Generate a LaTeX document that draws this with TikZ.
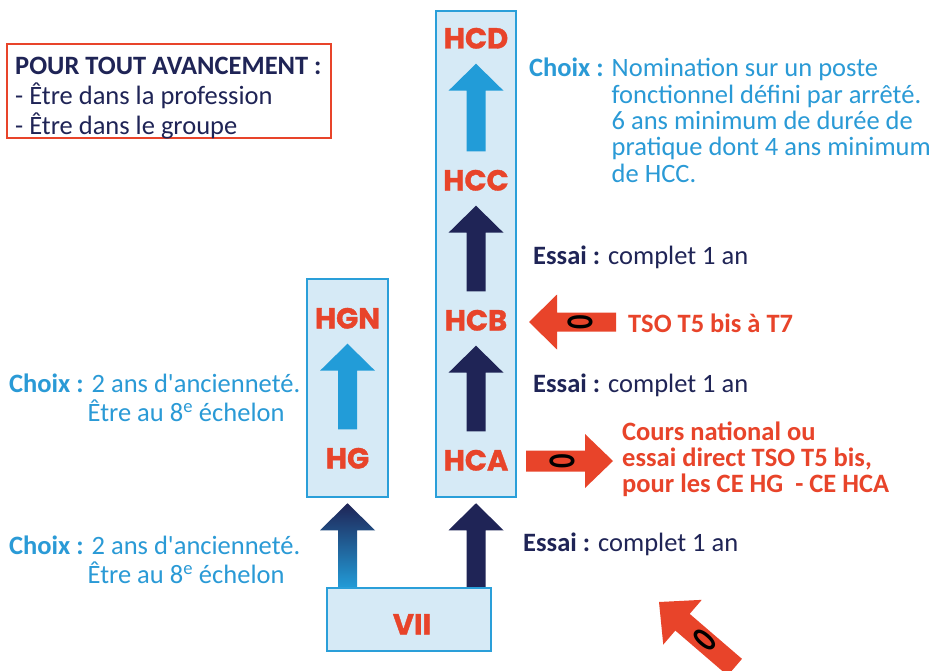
\documentclass[tikz,border=0pt]{standalone}
\usepackage{fontspec}
\setmainfont{Carlito}
\newfontfamily\gradefont{Poppins}[BoldFeatures={FakeBold=1.2}]
\usetikzlibrary{calc}
\definecolor{cred}{HTML}{E8442A}
\definecolor{cnavy}{HTML}{1F2456}
\definecolor{cblue}{HTML}{229CD8}
\definecolor{ctext}{HTML}{2A9AD6}
\definecolor{cfill}{HTML}{D6EAF6}
\definecolor{cborder}{HTML}{2A9FD9}
\tikzset{
  grade/.style={font=\gradefont\bfseries\fontsize{29}{29}\selectfont, text=cred, inner sep=0pt, text height=21pt, text depth=0pt, anchor=center},
  column/.style={draw=cborder, fill=cfill, line width=2.5pt, inner sep=0pt},
  txt/.style={font=\fontsize{26.5}{26.3}\selectfont, inner sep=0pt, anchor=base west},
  boldtxt/.style={txt, font=\fontsize{26.5}{26.3}\selectfont\bfseries},
  zero/.style={font=\fontsize{38}{38}\selectfont\bfseries, inner sep=0pt, text=black},
}
% vertical block arrow: #1 style, #2 tail, #3 tip
\newcommand\blockup[3]{\path[#1] let \p1=(#2), \p2=(#3) in
  (\x1-9.5pt,\y1) -- (\x1-9.5pt,\y2-27pt) -- (\x1-27.5pt,\y2-27pt) -- (\x1,\y2)
  -- (\x1+27.5pt,\y2-27pt) -- (\x1+9.5pt,\y2-27pt) -- (\x1+9.5pt,\y1) -- cycle;}
% general block arrow: #1 style, #2 tip, #3 angle, #4 length, #5 shaft width, #6 head width, #7 head length
\newcommand\blockarrow[7]{\begin{scope}[shift={(#2)}, rotate=#3]
  \path[#1] (0,0) -- (-#7,#6/2) -- (-#7,#5/2) -- (-#4,#5/2) -- (-#4,-#5/2)
    -- (-#7,-#5/2) -- (-#7,-#6/2) -- cycle;
  \end{scope}}
\begin{document}
\begin{tikzpicture}[x=1pt,y=-1pt]
\useasboundingbox (0,0) rectangle (933,671);
\fill[white] (0,0) rectangle (933,671);

% columns
\node[column, minimum width=80pt, minimum height=486pt] (colH) at (476,254) {};
\node[column, minimum width=81pt, minimum height=218pt] (colG) at (347.5,388) {};

% grade labels
\node[grade] (HCD) at (476,38) {HCD};
\node[grade] (HCC) at (476,180) {HCC};
\node[grade] (HCB) at (476,320) {HCB};
\node[grade] (HCA) at (476,460) {HCA};
\node[grade] (HGN) at (347.5,318) {HGN};
\node[grade] (HG) at (347.5,458) {HG};

% arrows inside columns
\blockup{fill=cblue}{[yshift=18pt]HCC.north}{[yshift=-15pt]HCD.south}
\blockup{fill=cnavy}{[yshift=18pt]HCB.north}{[yshift=-15pt]HCC.south}
\blockup{fill=cnavy}{[yshift=18pt]HCA.north}{[yshift=-15pt]HCB.south}
\blockup{fill=cblue}{[yshift=18pt]HG.north}{[yshift=-15pt]HGN.south}

% VII box
\coordinate (viiTop) at (409,588);
\blockup{top color=cnavy, bottom color=cblue}{viiTop -| HG}{[yshift=-5pt]colG.south}
\blockup{fill=cnavy}{viiTop -| HCA}{[yshift=-5pt]colH.south}
\node[column, line width=2pt, minimum width=164pt, minimum height=63pt] (vii) at (409,619.5) {};
\node[grade] (viilabel) at (412,624) {VII};

% requirement box
\node[draw=cred, line width=2pt, minimum width=324pt, minimum height=94pt] (reqbox) at (169,91) {};
\node[txt, text=cnavy] (req) at (15,75) {\begin{tabular}[t]{@{}l@{}}\textbf{POUR TOUT AVANCEMENT :}\\- Être dans la profession\\- Être dans le groupe\end{tabular}};

% right texts
\node[txt, text=ctext] (choixH) at (529,77) {\begin{tabular}[t]{@{}l@{ }l@{}}\textbf{Choix :} & Nomination sur un poste\\ & fonctionnel défini par arrêté.\\ & 6 ans minimum de durée de\\ & pratique dont 4 ans minimum\\ & de HCC.\end{tabular}};
\node[txt, text=cnavy] (essai1) at (533,264) {\textbf{Essai :} complet 1 an};
\node[txt, text=cnavy] (essai2) at (533,392) {\textbf{Essai :} complet 1 an};
\node[txt, text=cnavy] (essai3) at (523,551) {\textbf{Essai :} complet 1 an};
\node[boldtxt, text=cred] (tso) at (628,332) {TSO T5 bis à T7};
\node[boldtxt, text=cred] (cours) at (622,440) {\begin{tabular}[t]{@{}l@{}}Cours national ou\\essai direct TSO T5 bis,\\pour les CE HG\ \ - CE HCA\end{tabular}};

% left texts
\node[txt, text=ctext] (choixG1) at (9,392) {\begin{tabular}[t]{@{}l@{ }l@{}}\textbf{Choix :} & 2 ans d\textquotesingle ancienneté.\\ & \hspace{-4pt}Être au 8\textsuperscript{e} échelon\end{tabular}};
\node[txt, text=ctext] (choixG2) at (9,554) {\begin{tabular}[t]{@{}l@{ }l@{}}\textbf{Choix :} & 2 ans d\textquotesingle ancienneté.\\ & \hspace{-4pt}Être au 8\textsuperscript{e} échelon\end{tabular}};

% red arrows
\coordinate (tsoTip) at (529,322);
\blockarrow{fill=cred}{tsoTip}{180}{87}{19}{55}{28}
\node[zero, rotate=90] (z1) at ($(tsoTip)+(51,0)$) {\scalebox{0.75}[1]{0}};
\coordinate (coursTip) at (613,461);
\blockarrow{fill=cred}{coursTip}{0}{87}{21}{54}{28}
\node[zero, rotate=90] (z2) at ($(coursTip)+(-51,0)$) {\scalebox{0.75}[1]{0}};
\coordinate (diagTip) at (659,602);
\blockarrow{fill=cred}{diagTip}{139.3}{100}{22}{59}{31}
\node[zero, rotate=49.3] (z3) at ($(diagTip)+(46,38)$) {\scalebox{0.75}[1]{0}};
\end{tikzpicture}
\end{document}
